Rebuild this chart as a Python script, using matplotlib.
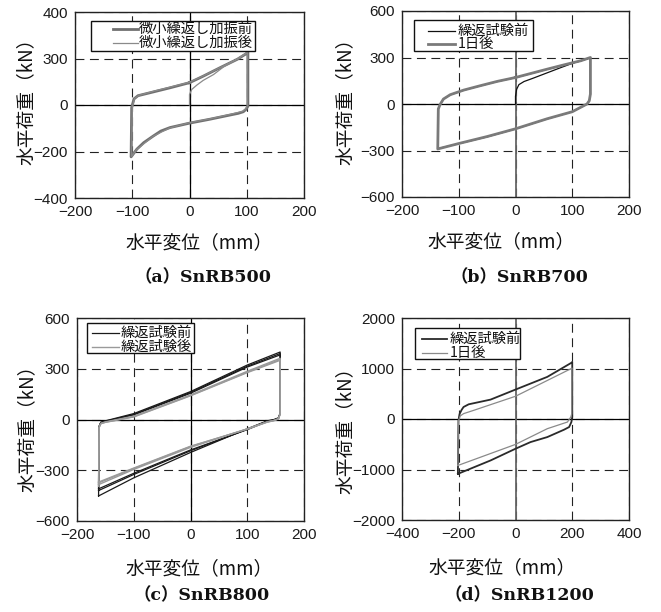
import matplotlib
matplotlib.use('Agg')
import matplotlib.pyplot as plt
from matplotlib.lines import Line2D
from matplotlib.patches import Rectangle

plt.rcParams['font.family'] = ['Liberation Sans', 'Noto Sans CJK JP', 'DejaVu Sans']

W, H = 661, 612
fig = plt.figure(figsize=(W / 100, H / 100), dpi=100)

# ---------------- data ----------------
# (a) SnRB500
a_before_x = [0, 24, 53, 83, 100, 102, 102, 99, 94, 85, 71, 36, 0, -34, -50, -63, -80, -92, -102, -101, -97, -90, -57, -34, 0]
a_before_y = [96, 124, 160, 196, 222, 230, -5, -18, -29, -36, -43, -61, -78, -97, -112, -133, -162, -190, -223, -11, 26, 40, 60, 74, 96]
a_after_x = [0, 0, 4, 13, 24, 42, 60, 85, 100, 101, 101, 98, 93, 70, 35, 0, -35, -64, -93, -101, -100, -96, -88, -58, -35, 0, 25, 54, 84, 100]
a_after_y = [0, 45, 67, 86, 106, 131, 165, 200, 226, 232, -3, -17, -27, -41, -60, -76, -99, -135, -193, -221, -9, 28, 42, 62, 76, 98, 126, 162, 198, 224]
a_labels = ['微小繰返し加振前', '微小繰返し加振後']
a_yticks = [-400, -200, 0, 200, 400]
a_yticklabels = ['−400', '−200', '0', '300', '400']
a_xticks = [-200, -100, 0, 100, 200]

# (b) SnRB700
b_before_x = [0, 0, 2, 6, 15, 30, 55, 80, 100, 115, 132, 132, 130, 126, 115, 100, 56, 0, -50, -100, -137,
              -136, -133, -127, -115, -91, -62, -32, 0, 27, 56, 86, 115, 131]
b_before_y = [0, 50, 95, 125, 145, 165, 200, 235, 262, 279, 298, 62, 20, 0, -22, -50, -96, -161, -212, -256, -288,
              -30, -3, 32, 59, 89, 117, 145, 170, 196, 224, 252, 278, 297]
b_after_x = [0, 27, 56, 86, 115, 132, 132, 130, 126, 115, 100, 56, 0, -50, -100, -137,
             -136, -133, -127, -115, -91, -62, -32, 0]
b_after_y = [171, 197, 225, 253, 279, 300, 64, 21, 0, -21, -50, -95, -160, -210, -255, -290,
             -32, -4, 32, 60, 90, 118, 146, 171]
b_labels = ['繰返試験前', '1日後']
b_yticks = [-600, -300, 0, 300, 600]
b_xticks = [-200, -100, 0, 100, 200]

# (c) SnRB800  (three cycles per series)
c_cycle_x = [-162, -161, -158, -150, -100, 0, 100, 158, 158, 155, 147, 135, 100, 0, -100, -162]
c_before_y1 = [-452, -40, -15, -8, 35, 165, 322, 399, 40, 10, 0, -8, -55, -195, -345, -452]
c_before_y2 = [-420, -40, -18, -10, 30, 160, 315, 390, 38, 8, -2, -10, -58, -185, -325, -420]
c_before_y3 = [-410, -42, -20, -12, 27, 155, 310, 382, 36, 6, -4, -12, -60, -180, -318, -410]
c_after_y1 = [-395, -45, -22, -14, 20, 145, 285, 362, 35, 5, -5, -14, -55, -165, -295, -385]
c_after_y2 = [-385, -46, -24, -16, 17, 142, 280, 355, 33, 4, -6, -15, -56, -160, -290, -375]
c_after_y3 = [-375, -47, -25, -17, 15, 140, 277, 350, 32, 3, -7, -16, -57, -158, -287, -370]
c_labels = ['繰返試験前', '繰返試験後']
c_yticks = [-600, -300, 0, 300, 600]
c_xticks = [-200, -100, 0, 100, 200]

# (d) SnRB1200
d_before_x = [-203, -201, -197, -190, -183, -165, -88, 0, 112, 197, 200, 200, 197, 189, 171, 112, 53, 0, -88, -203]
d_before_y = [-1086, -26, 100, 180, 238, 291, 384, 583, 834, 1113, 1130, 40, -60, -159, -212, -358, -457, -589, -821, -1086]
d_after_x = [-203, -201, -195, -183, -147, 0, 197, 199, 198, 195, 183, 112, 0, -203]
d_after_y = [-920, -40, 60, 106, 172, 450, 1000, 1010, 100, 40, -60, -192, -503, -920]
d_labels = ['繰返試験前', '1日後']
d_yticks = [-2000, -1000, 0, 1000, 2000]
d_xticks = [-400, -200, 0, 200, 400]

titles = ['（a）SnRB500', '（b）SnRB700', '（c）SnRB800', '（d）SnRB1200']
xlabel = '水平変位（mm）'
ylabel = '水平荷重（kN）'

# ---------------- helpers ----------------
def fx(x):
    return x / W

def fy(y):
    return 1 - y / H

def make_axes(l, t, r, b):
    return fig.add_axes([l / W, 1 - b / H, (r - l) / W, (b - t) / H])

tick_font = dict(family=['Liberation Sans', 'DejaVu Sans'], size=11)
cjk = ['Noto Sans CJK JP', 'DejaVu Sans']

def style_axes(ax, xlim, ylim, xticks, yticks, yticklabels=None, zero_v_color='k', zero_v_lw=0.9):
    ax.set_xlim(xlim)
    ax.set_ylim(ylim)
    ax.set_xticks(xticks)
    ax.set_yticks(yticks)
    ax.set_xticklabels([str(v).replace('-', '−') for v in xticks], **tick_font)
    if yticklabels is None:
        yticklabels = [str(v).replace('-', '−') for v in yticks]
    ax.set_yticklabels(yticklabels, **tick_font)
    ax.tick_params(length=0, pad=5, colors='#1a1a1a')
    for s in ax.spines.values():
        s.set_linewidth(1.0)
        s.set_color('#222222')
    ax.grid(True, linestyle=(0, (8, 5)), color='#222222', linewidth=0.8)
    ax.axhline(0, color='k', lw=0.9, zorder=1.5)
    ax.axvline(0, color=zero_v_color, lw=zero_v_lw, zorder=1.5)
    ax.set_axisbelow(True)

def legend_box(box, rows, line_x, text_x, labels, styles):
    l, t, r, b = box
    fig.add_artist(Rectangle((fx(l), fy(b)), (r - l) / W, (b - t) / H,
                             transform=fig.transFigure, facecolor='white',
                             edgecolor='#111111', lw=1.0, zorder=5))
    for yc, lab, st in zip(rows, labels, styles):
        fig.add_artist(Line2D([fx(line_x[0]), fx(line_x[1])], [fy(yc), fy(yc)],
                              transform=fig.transFigure, zorder=6, **st))
        fig.text(fx(text_x), fy(yc), lab, ha='left', va='center', fontsize=10.3,
                 family=cjk, color='#111111', zorder=7)

def labels(xl_pos, yl_pos, title_pos, title):
    fig.text(fx(xl_pos[0]), fy(xl_pos[1]), xlabel, ha='center', va='center',
             fontsize=13.5, family=cjk, color='#111111')
    fig.text(fx(yl_pos[0]), fy(yl_pos[1]), ylabel, ha='center', va='center',
             fontsize=13.5, family=cjk, rotation=90, color='#111111')
    fig.text(fx(title_pos[0]), fy(title_pos[1]), title, ha='center', va='center',
             fontsize=12.5, family=['DejaVu Serif', 'Noto Sans CJK JP'], fontweight='bold',
             color='#111111')

# ---------------- (a) ----------------
ax = make_axes(75, 12, 304, 198)
style_axes(ax, (-200, 200), (-400, 400), a_xticks, a_yticks, a_yticklabels)
st_a1 = dict(color='#707070', lw=2.0)
st_a2 = dict(color='#8a8a8a', lw=0.9)
ax.plot(a_before_x, a_before_y, solid_joinstyle='round', zorder=3, **st_a1)
ax.plot(a_after_x, a_after_y, solid_joinstyle='round', zorder=4, **st_a2)
legend_box((90.7, 20.7, 255, 50.7), [29, 43], (113, 138), 139, a_labels, [st_a1, st_a2])
labels((199, 243), (26, 97), (203, 278), titles[0])

# ---------------- (b) ----------------
ax = make_axes(402, 11, 629, 197)
style_axes(ax, (-200, 200), (-600, 600), b_xticks, b_yticks, zero_v_color='#666666', zero_v_lw=1.3)
st_b1 = dict(color='#111111', lw=0.9)
st_b2 = dict(color='#7a7a7a', lw=2.0)
ax.plot(b_before_x, b_before_y, solid_joinstyle='round', zorder=3, **st_b1)
ax.plot(b_after_x, b_after_y, solid_joinstyle='round', zorder=4, **st_b2)
legend_box((414, 19.7, 532.7, 51.3), [30.7, 44], (428, 455), 458, b_labels, [st_b1, st_b2])
labels((501, 242), (345, 97), (519, 278), titles[1])

# ---------------- (c) ----------------
ax = make_axes(77, 318, 304, 521)
style_axes(ax, (-200, 200), (-600, 600), c_xticks, c_yticks)
st_c1 = dict(color='#1a1a1a', lw=0.9)
st_c2 = dict(color='#9a9a9a', lw=1.0)
for yy in (c_before_y1, c_before_y2, c_before_y3):
    ax.plot(c_cycle_x, yy, solid_joinstyle='round', zorder=3, **st_c1)
for yy in (c_after_y1, c_after_y2, c_after_y3):
    ax.plot(c_cycle_x, yy, solid_joinstyle='round', zorder=4, **st_c2)
legend_box((86.7, 322.7, 194, 353), [333, 346.7], (92, 119), 120.7, c_labels, [st_c1, st_c2])
labels((199, 569), (27, 424), (202, 596), titles[2])

# ---------------- (d) ----------------
ax = make_axes(402, 318, 629, 520)
style_axes(ax, (-400, 400), (-2000, 2000), d_xticks, d_yticks, zero_v_color='#666666', zero_v_lw=1.3)
st_d1 = dict(color='#2a2a2a', lw=1.3)
st_d2 = dict(color='#8a8a8a', lw=0.9)
ax.plot(d_before_x, d_before_y, solid_joinstyle='round', zorder=3, **st_d1)
ax.plot(d_after_x, d_after_y, solid_joinstyle='round', zorder=4, **st_d2)
legend_box((414.7, 327.7, 520, 358.7), [339, 352.7], (422, 447), 450, d_labels, [st_d1, st_d2])
labels((502, 568), (345, 426), (519, 596), titles[3])

fig.savefig('out.png', dpi=100, facecolor='white')
